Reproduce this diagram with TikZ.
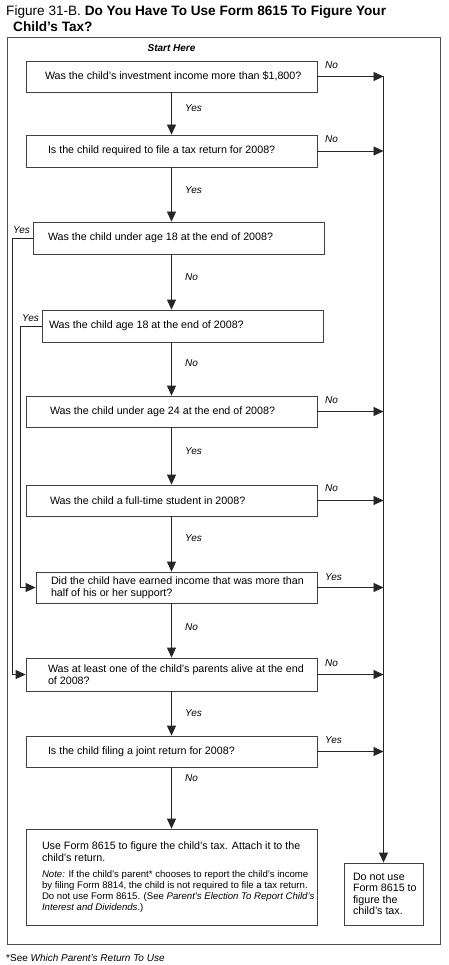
\documentclass[tikz,border=0pt]{standalone}
\usepackage{fontspec}
\setmainfont{Liberation Sans}
\usetikzlibrary{arrows.meta}
\newcommand\bxt[3]{\hspace*{#1pt}\parbox{\dimexpr #2pt-#1pt\relax}{\raggedright #3}}
\begin{document}
\begin{tikzpicture}[x=1pt,y=-1pt,
  box/.style={draw=black!75, line width=0.8pt, inner xsep=0pt, inner ysep=0pt,
    font=\fontsize{10.7}{12}\selectfont},
  conn/.style={line width=0.8pt, draw=black!85},
  arr/.style={conn, -{Triangle[length=10pt,width=9pt]}},
  lab/.style={font=\fontsize{10}{12}\selectfont\itshape, inner sep=0pt, anchor=west},
  plain/.style={inner sep=0pt, anchor=base west},
]
\useasboundingbox (0,0) rectangle (448,965);
% title
\node[plain, font=\fontsize{13.6}{16}\selectfont] (title1) at (6,16) {Figure 31-B. \textbf{Do You Have To Use Form 8615 To Figure Your}};
\node[plain, font=\fontsize{13.6}{16}\selectfont\bfseries] (title2) at (13,32) {Child's Tax?};
% frame
\draw[draw=black!70, line width=0.8pt] (7,37) rectangle (440,944);
\node[font=\fontsize{10}{12}\selectfont\bfseries\itshape, inner sep=0pt] (start) at (171.5,48) {Start Here};
% boxes
\node[box, minimum width=291pt, minimum height=31pt] (b1) at (171.5,76.5) {\bxt{19}{291}{Was the child's investment income more than \$1,800?}};
\node[box, minimum width=291pt, minimum height=32pt] (b2) at (171.5,151) {\bxt{22}{291}{Is the child required to file a tax return for 2008?}};
\node[box, minimum width=291pt, minimum height=32pt] (b3) at (178.5,238) {\bxt{15}{291}{Was the child under age 18 at the end of 2008?}};
\node[box, minimum width=281pt, minimum height=32pt] (b4) at (182.5,326) {\bxt{7}{281}{Was the child age 18 at the end of 2008?}};
\node[box, minimum width=291pt, minimum height=31pt] (b5) at (171.5,411.5) {\bxt{24}{291}{Was the child under age 24 at the end of 2008?}};
\node[box, minimum width=291pt, minimum height=31pt] (b6) at (171.5,500.5) {\bxt{24}{291}{Was the child a full-time student in 2008?}};
\node[box, minimum width=281pt, minimum height=31pt] (b7) at (176.5,587.5) {\bxt{15}{281}{Did the child have earned income that was more than\\ half of his or her support?}};
\node[box, minimum width=291pt, minimum height=33pt] (b8) at (171.5,674.5) {\bxt{22}{291}{Was at least one of the child's parents alive at the end\\ of 2008?}};
\node[box, minimum width=291pt, minimum height=31pt] (b9) at (171.5,751.5) {\bxt{22}{291}{Is the child filing a joint return for 2008?}};
\node[box, minimum width=291pt, minimum height=96pt] (b10) at (171.5,877) {\bxt{16}{291}{Use Form 8615 to figure the child's tax. Attach it to the\\ child's return.\par
  \vspace{5pt}{\fontsize{9.6}{11}\selectfont \textit{Note:} If the child's parent* chooses to report the child's income\\ by filing Form 8814, the child is not required to file a tax return.\\ Do not use Form 8615. (See \textit{Parent's Election To Report Child's}\\ \textit{Interest and Dividends}.)\par}}};
\node[box, minimum width=79pt, minimum height=62pt, font=\fontsize{10.7}{11.5}\selectfont] (b11) at (383.5,894) {\bxt{9}{79}{Do not use\\ Form 8615 to\\ figure the\\ child's tax.}};
% guide coordinates
\coordinate (mx) at (171.5,0);
\coordinate (rx) at (383.5,0);
\coordinate (lx1) at (12,0);
\coordinate (lx2) at (20,0);
% main vertical arrows
\draw[arr] (b1.south -| mx) -- (b2.north -| mx);
\draw[arr] (b2.south -| mx) -- (b3.north -| mx);
\draw[arr] (b3.south -| mx) -- (b4.north -| mx);
\draw[arr] (b4.south -| mx) -- (b5.north -| mx);
\draw[arr] (b5.south -| mx) -- (b6.north -| mx);
\draw[arr] (b6.south -| mx) -- (b7.north -| mx);
\draw[arr] (b7.south -| mx) -- (b8.north -| mx);
\draw[arr] (b8.south -| mx) -- (b9.north -| mx);
\draw[arr] (b9.south -| mx) -- (b10.north -| mx);
% right arrows
\draw[arr] (b1.east) -- (b1.east -| rx);
\draw[arr] (b2.east) -- (b2.east -| rx);
\draw[arr] (b5.east) -- (b5.east -| rx);
\draw[arr] (b6.east) -- (b6.east -| rx);
\draw[arr] (b7.east) -- (b7.east -| rx);
\draw[arr] (b8.east) -- (b8.east -| rx);
\draw[arr] (b9.east) -- (b9.east -| rx);
\draw[arr] (b1.east -| rx) -- (b11.north);
% left arrows
\draw[arr] (b3.west) -- (b3.west -| lx1) -- (b8.west -| lx1) -- (b8.west);
\draw[arr] (b4.west) -- (b4.west -| lx2) -- (b7.west -| lx2) -- (b7.west);
% vertical labels
\node[lab] (v1) at (185,108) {Yes};
\node[lab] (v2) at (185,190) {Yes};
\node[lab] (v3) at (185,277) {No};
\node[lab] (v4) at (185,363) {No};
\node[lab] (v5) at (185,451) {Yes};
\node[lab] (v6) at (185,538) {Yes};
\node[lab] (v7) at (185,627) {No};
\node[lab] (v8) at (185,713) {Yes};
\node[lab] (v9) at (185,778) {No};
% right labels
\node[lab] (r1) at (325,65) {No};
\node[lab] (r2) at (325,139) {No};
\node[lab] (r5) at (325,400) {No};
\node[lab] (r6) at (325,488) {No};
\node[lab] (r7) at (325,577) {Yes};
\node[lab] (r8) at (325,663) {No};
\node[lab] (r9) at (325,740) {Yes};
% left labels
\node[lab] (l3) at (13,230) {Yes};
\node[lab] (l4) at (22,318) {Yes};
% footnote
\node[plain, font=\fontsize{10}{12}\selectfont] (fn) at (6,961) {*See \textit{Which Parent's Return To Use}};
\end{tikzpicture}
\end{document}
